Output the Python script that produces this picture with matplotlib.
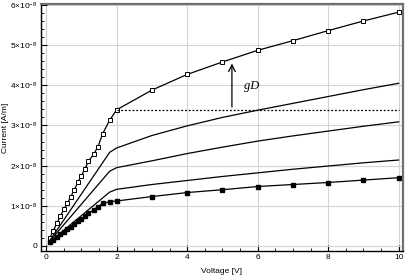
import numpy as np
import matplotlib
matplotlib.use("Agg")
import matplotlib.pyplot as plt
from matplotlib.ticker import FuncFormatter, MultipleLocator

plt.rcParams['font.family'] = ['Liberation Sans', 'DejaVu Sans']
plt.rcParams['mathtext.fontset'] = 'custom'
plt.rcParams['mathtext.rm'] = 'Liberation Sans'

# current values are in units of 1e-8 A/m
v_fine = [0.1, 0.2, 0.3, 0.4, 0.5, 0.6, 0.7, 0.8, 0.9, 1.0, 1.1, 1.2, 1.35, 1.47, 1.6, 1.8,
          2, 3, 4, 5, 6, 7, 8, 9, 10]
i_top = [0.19, 0.38, 0.56, 0.74, 0.91, 1.06, 1.23, 1.40, 1.59, 1.75, 1.92, 2.11, 2.29, 2.47, 2.79, 3.13,
         3.39, 3.88, 4.27, 4.58, 4.87, 5.11, 5.36, 5.60, 5.82]
i_bottom = [0.10, 0.16, 0.22, 0.29, 0.35, 0.42, 0.48, 0.55, 0.61, 0.68, 0.74, 0.81, 0.90, 0.97, 1.06, 1.10,
            1.12, 1.23, 1.33, 1.40, 1.48, 1.53, 1.58, 1.64, 1.70]

v_coarse = [0.1, 1.8, 2, 3, 4, 5, 6, 7, 8, 9, 10]
i_curve_a = [0.13, 2.33, 2.44, 2.75, 2.99, 3.20, 3.38, 3.55, 3.72, 3.89, 4.05]
i_curve_b = [0.12, 1.86, 1.95, 2.12, 2.30, 2.46, 2.61, 2.74, 2.86, 2.98, 3.09]
i_curve_c = [0.10, 1.34, 1.41, 1.53, 1.63, 1.73, 1.82, 1.91, 1.99, 2.07, 2.14]

ref_level = 3.39
arrow_v = 5.27
arrow_top = 4.61

scale = 1e-8


def sci_label(y, pos):
    n = int(round(y / scale))
    if n == 0:
        return "0"
    return r"$\mathregular{%d{\times}10^{-8}}$" % n


fig = plt.figure(figsize=(4.09, 2.75), dpi=100)
ax = fig.add_axes([0.1, 0.088, 0.885, 0.897])

ax.plot(v_fine, np.array(i_top) * scale, color='black', lw=0.9, marker='s', ms=3.2,
        mfc='white', mec='black', mew=0.7)
ax.plot(v_coarse, np.array(i_curve_a) * scale, color='black', lw=0.9)
ax.plot(v_coarse, np.array(i_curve_b) * scale, color='black', lw=0.9)
ax.plot(v_coarse, np.array(i_curve_c) * scale, color='black', lw=0.9)
ax.plot(v_fine, np.array(i_bottom) * scale, color='black', lw=0.9, marker='s', ms=3.0,
        mfc='black', mec='black')

ax.plot([2, 10], [ref_level * scale, ref_level * scale], color='black', lw=0.9, ls=(0, (1.5, 1.5)))
ax.annotate('', xy=(arrow_v, arrow_top * scale), xytext=(arrow_v, ref_level * scale),
            arrowprops=dict(arrowstyle='->', color='black', lw=0.9, mutation_scale=12))
ax.text(5.6, 3.98 * scale, 'gD', family='Liberation Serif', style='italic', fontsize=9,
        ha='left', va='center')

ax.set_xlim(-0.15, 10.12)
ax.set_ylim(-0.12e-8, 6.02e-8)
ax.xaxis.set_major_locator(MultipleLocator(2))
ax.xaxis.set_minor_locator(MultipleLocator(0.5))
ax.yaxis.set_major_locator(MultipleLocator(1e-8))
ax.yaxis.set_minor_locator(MultipleLocator(0.2e-8))
ax.yaxis.set_major_formatter(FuncFormatter(sci_label))
ax.grid(True, which='major', color='#d4d4d4', lw=0.8)
ax.set_axisbelow(True)
ax.tick_params(which='both', direction='in', labelsize=6, top=False, right=False, pad=2.5)
ax.tick_params(which='major', length=4, width=0.8)
ax.tick_params(which='minor', length=2, width=0.6)
ax.set_xlabel('Voltage [V]', fontsize=6)
ax.set_ylabel('Current [A/m]', fontsize=6)
ax.xaxis.set_label_coords(0.5, -0.068)
ax.yaxis.set_label_coords(-0.087, 0.5)
for side in ['top', 'right']:
    ax.spines[side].set_color('#707070')
    ax.spines[side].set_linewidth(1.6)
for side in ['left', 'bottom']:
    ax.spines[side].set_linewidth(1.0)

fig.savefig('out.png', dpi=100)
